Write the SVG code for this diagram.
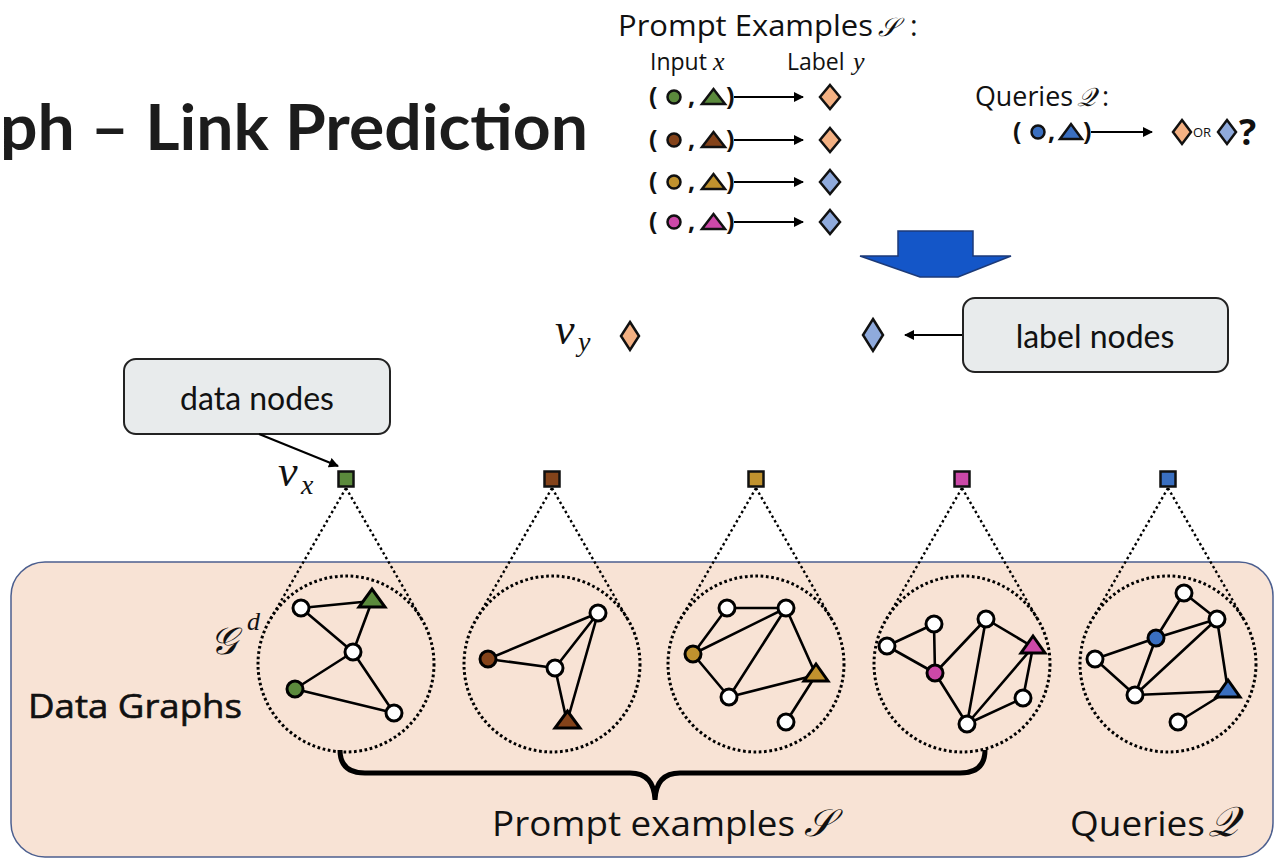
<svg xmlns="http://www.w3.org/2000/svg" width="1278" height="859" viewBox="0 0 1278 859">
<style>
.t{font-family:"Open Sans","Liberation Sans",sans-serif;fill:#111}
.lato{font-family:Lato,"Liberation Sans",sans-serif;fill:#111}
.m{font-family:"Liberation Serif","DejaVu Serif",serif;font-style:italic;fill:#111}
.scr{font-family:"DejaVu Serif","DejaVu Sans","Liberation Serif",serif;fill:#111}
.e{stroke:#000;stroke-width:2.6;fill:none}
.n{stroke:#000;stroke-width:3}
.w{fill:#fff}
.dc{fill:none;stroke:#000;stroke-width:3;stroke-dasharray:2.7 2.6}
.dl{fill:none;stroke:#000;stroke-width:2.4;stroke-dasharray:2.5 2.8}
.box{fill:#e8ebec;stroke:#222;stroke-width:2}
.s{stroke:#111;stroke-width:2.5}
.ar{stroke:#000;stroke-width:2;fill:none}
.dO{fill:#f4b183;stroke:#111;stroke-width:2.5}
.dB{fill:#8faadc;stroke:#111;stroke-width:2.5}
.gr{fill:#5b8a3c}.br{fill:#84431a}.go{fill:#c0922e}.pk{fill:#cc48a8}.bl{fill:#3a6fc0}
</style>
<defs>
<marker id="ah" viewBox="0 0 10 10" refX="9" refY="5" markerWidth="10" markerHeight="10" markerUnits="userSpaceOnUse" orient="auto">
<path d="M0,0 L10,5 L0,10 z" fill="#000"/>
</marker>
</defs>

<rect id="panel" x="11" y="562" width="1262" height="295" rx="34" fill="#f8e3d5" stroke="#4c5f8f" stroke-width="1.5"/>

<text id="title" x="0" y="150" font-family="Lato,'Liberation Sans',sans-serif" font-weight="bold" font-size="64" fill="#1c1c1c" textLength="588" lengthAdjust="spacingAndGlyphs">ph – Link Prediction</text>

<g id="prompt-examples">
<text class="t" x="618" y="36" font-size="29" textLength="255" lengthAdjust="spacingAndGlyphs">Prompt Examples</text>
<text class="scr" x="878" y="36" font-size="26" font-style="italic">𝒮</text>
<text class="t" x="910" y="36" font-size="29">:</text>
<text class="t" x="650" y="70" font-size="23">Input</text>
<text class="m" x="713" y="70" font-size="26">x</text>
<text class="t" x="787" y="70" font-size="23">Label</text>
<text class="m" x="853" y="70" font-size="26">y</text>
</g>

<g id="row1">
<text class="t" x="649" y="105" font-size="25" font-weight="bold">(</text>
<circle class="s gr" cx="674" cy="97" r="6.5"/>
<text class="t" x="688" y="105" font-size="25" font-weight="bold">,</text>
<polygon class="s gr" points="702,104 725,104 713.5,89"/>
<text class="t" x="726" y="105" font-size="25" font-weight="bold">)</text>
<line class="ar" x1="734" y1="97" x2="803" y2="97" marker-end="url(#ah)"/>
<polygon class="dO" points="830,85 840,97 830,109 820,97"/>
</g>
<g id="row2">
<text class="t" x="649" y="148" font-size="25" font-weight="bold">(</text>
<circle class="s br" cx="674" cy="140" r="6.5"/>
<text class="t" x="688" y="148" font-size="25" font-weight="bold">,</text>
<polygon class="s br" points="702,147 725,147 713.5,132"/>
<text class="t" x="726" y="148" font-size="25" font-weight="bold">)</text>
<line class="ar" x1="734" y1="140" x2="803" y2="140" marker-end="url(#ah)"/>
<polygon class="dO" points="830,128 840,140 830,152 820,140"/>
</g>
<g id="row3">
<text class="t" x="649" y="190" font-size="25" font-weight="bold">(</text>
<circle class="s go" cx="674" cy="182" r="6.5"/>
<text class="t" x="688" y="190" font-size="25" font-weight="bold">,</text>
<polygon class="s go" points="702,189 725,189 713.5,174"/>
<text class="t" x="726" y="190" font-size="25" font-weight="bold">)</text>
<line class="ar" x1="734" y1="182" x2="803" y2="182" marker-end="url(#ah)"/>
<polygon class="dB" points="830,170 840,182 830,194 820,182"/>
</g>
<g id="row4">
<text class="t" x="649" y="230" font-size="25" font-weight="bold">(</text>
<circle class="s pk" cx="674" cy="222" r="6.5"/>
<text class="t" x="688" y="230" font-size="25" font-weight="bold">,</text>
<polygon class="s pk" points="702,229 725,229 713.5,214"/>
<text class="t" x="726" y="230" font-size="25" font-weight="bold">)</text>
<line class="ar" x1="734" y1="222" x2="803" y2="222" marker-end="url(#ah)"/>
<polygon class="dB" points="830,210 840,222 830,234 820,222"/>
</g>

<g id="queries">
<text class="t" x="975" y="106" font-size="27" textLength="98" lengthAdjust="spacingAndGlyphs">Queries</text>
<text class="scr" x="1077" y="106" font-size="26" font-style="italic">𝒬</text>
<text class="t" x="1102" y="106" font-size="27">:</text>
<text class="t" x="1013" y="140" font-size="25" font-weight="bold">(</text>
<circle class="s bl" cx="1038" cy="132" r="6.5"/>
<text class="t" x="1048" y="140" font-size="25" font-weight="bold">,</text>
<polygon class="s bl" points="1060,139 1082,139 1071,124"/>
<text class="t" x="1083" y="140" font-size="25" font-weight="bold">)</text>
<line class="ar" x1="1091" y1="132" x2="1152" y2="132" marker-end="url(#ah)"/>
<polygon class="dO" points="1182,120 1191,132 1182,144 1173,132"/>
<text class="t" x="1193" y="137" font-size="13">OR</text>
<polygon class="dB" points="1227,120 1236,132 1227,144 1218,132"/>
<text class="t" x="1239" y="145" font-size="36" font-weight="bold">?</text>
</g>

<polygon id="big-arrow" points="898,231 973,231 973,256 1011,256 958,277 920,277 860,256 898,256" fill="#1456c8" stroke="#1c3a78" stroke-width="1.5"/>

<g id="label-nodes">
<polygon class="dO" points="630,322 639,336 630,350 621,336"/>
<text class="m" x="555" y="344" font-size="44">v</text>
<text class="m" x="578" y="351" font-size="28">y</text>
<polygon class="dB" points="873,319 883,335 873,351 863,335"/>
</g>

<g id="label-nodes-callout">
<rect class="box" x="963" y="298" width="265" height="74" rx="12"/>
<text class="lato" x="1095" y="348" font-size="32" text-anchor="middle">label nodes</text>
</g>

<g id="data-nodes-callout">
<rect class="box" x="124" y="359" width="266" height="75" rx="12"/>
<text class="lato" x="257" y="410" font-size="32" text-anchor="middle">data nodes</text>
</g>

<g id="connectors">
<line class="ar" x1="259" y1="434" x2="338" y2="466" marker-end="url(#ah)"/>
<line class="ar" x1="962" y1="335" x2="905" y2="335" marker-end="url(#ah)"/>
<path class="dl" d="M346,488 L270,620 M346,488 L422,620"/>
<path class="dl" d="M552,488 L476,620 M552,488 L628,620"/>
<path class="dl" d="M756,488 L680,620 M756,488 L832,620"/>
<path class="dl" d="M962,488 L886,620 M962,488 L1038,620"/>
<path class="dl" d="M1168,488 L1092,620 M1168,488 L1244,620"/>
<path d="M340,750 Q340,773 365,773 L630,773 Q654,773 655,800 Q656,773 680,773 L960,773 Q985,773 985,750" fill="none" stroke="#000" stroke-width="5"/>
</g>

<g id="vx-labels">
<text class="m" x="278" y="486" font-size="44">v</text>
<text class="m" x="301" y="494" font-size="28">x</text>
</g>

<g id="data-nodes">
<rect class="s gr" x="338.5" y="471.5" width="15" height="15"/>
<rect class="s br" x="544.5" y="471.5" width="15" height="15"/>
<rect class="s go" x="748.5" y="471.5" width="15" height="15"/>
<rect class="s pk" x="954.5" y="471.5" width="15" height="15"/>
<rect class="s bl" x="1160.5" y="471.5" width="15" height="15"/>
</g>

<g id="graph-label">
<text class="scr" x="210" y="654" font-size="38" font-style="italic">𝒢</text>
<text class="m" x="247" y="630" font-size="26">d</text>
<text class="t" x="28" y="718" font-size="33" stroke="#111" stroke-width="0.6" textLength="214" lengthAdjust="spacingAndGlyphs">Data Graphs</text>
</g>

<g id="graph1">
<circle class="dc" cx="346" cy="664" r="88"/>
<path class="e" d="M301,608 L372,601 M301,608 L353,652 M372,601 L353,652 M353,652 L295,689 M353,652 L394,713 M295,689 L394,713"/>
<circle class="n w" cx="301" cy="608" r="8"/>
<polygon class="n gr" points="359,607 385,607 372,589"/>
<circle class="n w" cx="353" cy="652" r="8"/>
<circle class="n gr" cx="295" cy="689" r="8"/>
<circle class="n w" cx="394" cy="713" r="8"/>
</g>

<g id="graph2">
<circle class="dc" cx="552" cy="664" r="88"/>
<path class="e" d="M488,659 L598,613 M488,659 L555,668 M555,668 L598,613 M555,668 L567,722 M598,613 L567,722"/>
<circle class="n w" cx="598" cy="613" r="8"/>
<circle class="n br" cx="488" cy="659" r="8"/>
<circle class="n w" cx="555" cy="668" r="8"/>
<polygon class="n br" points="555,728 580,728 567.5,711"/>
</g>

<g id="graph3">
<circle class="dc" cx="756" cy="664" r="88"/>
<path class="e" d="M727,608 L786,608 M693,654 L727,608 M693,654 L786,608 M693,654 L729,697 M729,697 L786,608 M786,608 L816,675 M729,697 L816,675 M816,675 L786,722"/>
<circle class="n w" cx="727" cy="608" r="8"/>
<circle class="n w" cx="786" cy="608" r="8"/>
<circle class="n go" cx="693" cy="654" r="8"/>
<circle class="n w" cx="729" cy="697" r="8"/>
<polygon class="n go" points="804,681 828,681 816,664"/>
<circle class="n w" cx="786" cy="722" r="8"/>
</g>

<g id="graph4">
<circle class="dc" cx="962" cy="664" r="88"/>
<path class="e" d="M887,646 L934,624 M887,646 L935,673 M934,624 L935,673 M935,673 L986,619 M986,619 L1033,647 M986,619 L967,724 M935,673 L967,724 M967,724 L1033,647 M967,724 L1023,698 M1023,698 L1033,647"/>
<circle class="n w" cx="934" cy="624" r="8"/>
<circle class="n w" cx="986" cy="619" r="8"/>
<circle class="n w" cx="887" cy="646" r="8"/>
<circle class="n pk" cx="935" cy="673" r="8"/>
<polygon class="n pk" points="1021,653 1045,653 1033,636"/>
<circle class="n w" cx="1023" cy="698" r="8"/>
<circle class="n w" cx="967" cy="724" r="8"/>
</g>

<g id="graph5">
<circle class="dc" cx="1168" cy="664" r="88"/>
<path class="e" d="M1184,593 L1156,638 M1184,593 L1217,619 M1156,638 L1217,619 M1095,659 L1156,638 M1095,659 L1135,695 M1156,638 L1135,695 M1135,695 L1217,619 M1135,695 L1228,691 M1217,619 L1228,691 M1228,691 L1178,722"/>
<circle class="n w" cx="1184" cy="593" r="8"/>
<circle class="n w" cx="1217" cy="619" r="8"/>
<circle class="n bl" cx="1156" cy="638" r="8"/>
<circle class="n w" cx="1095" cy="659" r="8"/>
<circle class="n w" cx="1135" cy="695" r="8"/>
<polygon class="n bl" points="1216,697 1240,697 1228,680"/>
<circle class="n w" cx="1178" cy="722" r="8"/>
</g>

<g id="bottom-labels">
<text class="t" x="492" y="836" font-size="34" textLength="303" lengthAdjust="spacingAndGlyphs">Prompt examples</text>
<text class="scr" x="804" y="836" font-size="38" font-style="italic">𝒮</text>
<text class="t" x="1070" y="836" font-size="34" textLength="135" lengthAdjust="spacingAndGlyphs">Queries</text>
<text class="scr" x="1208" y="836" font-size="42" font-style="italic">𝒬</text>
</g>
</svg>
